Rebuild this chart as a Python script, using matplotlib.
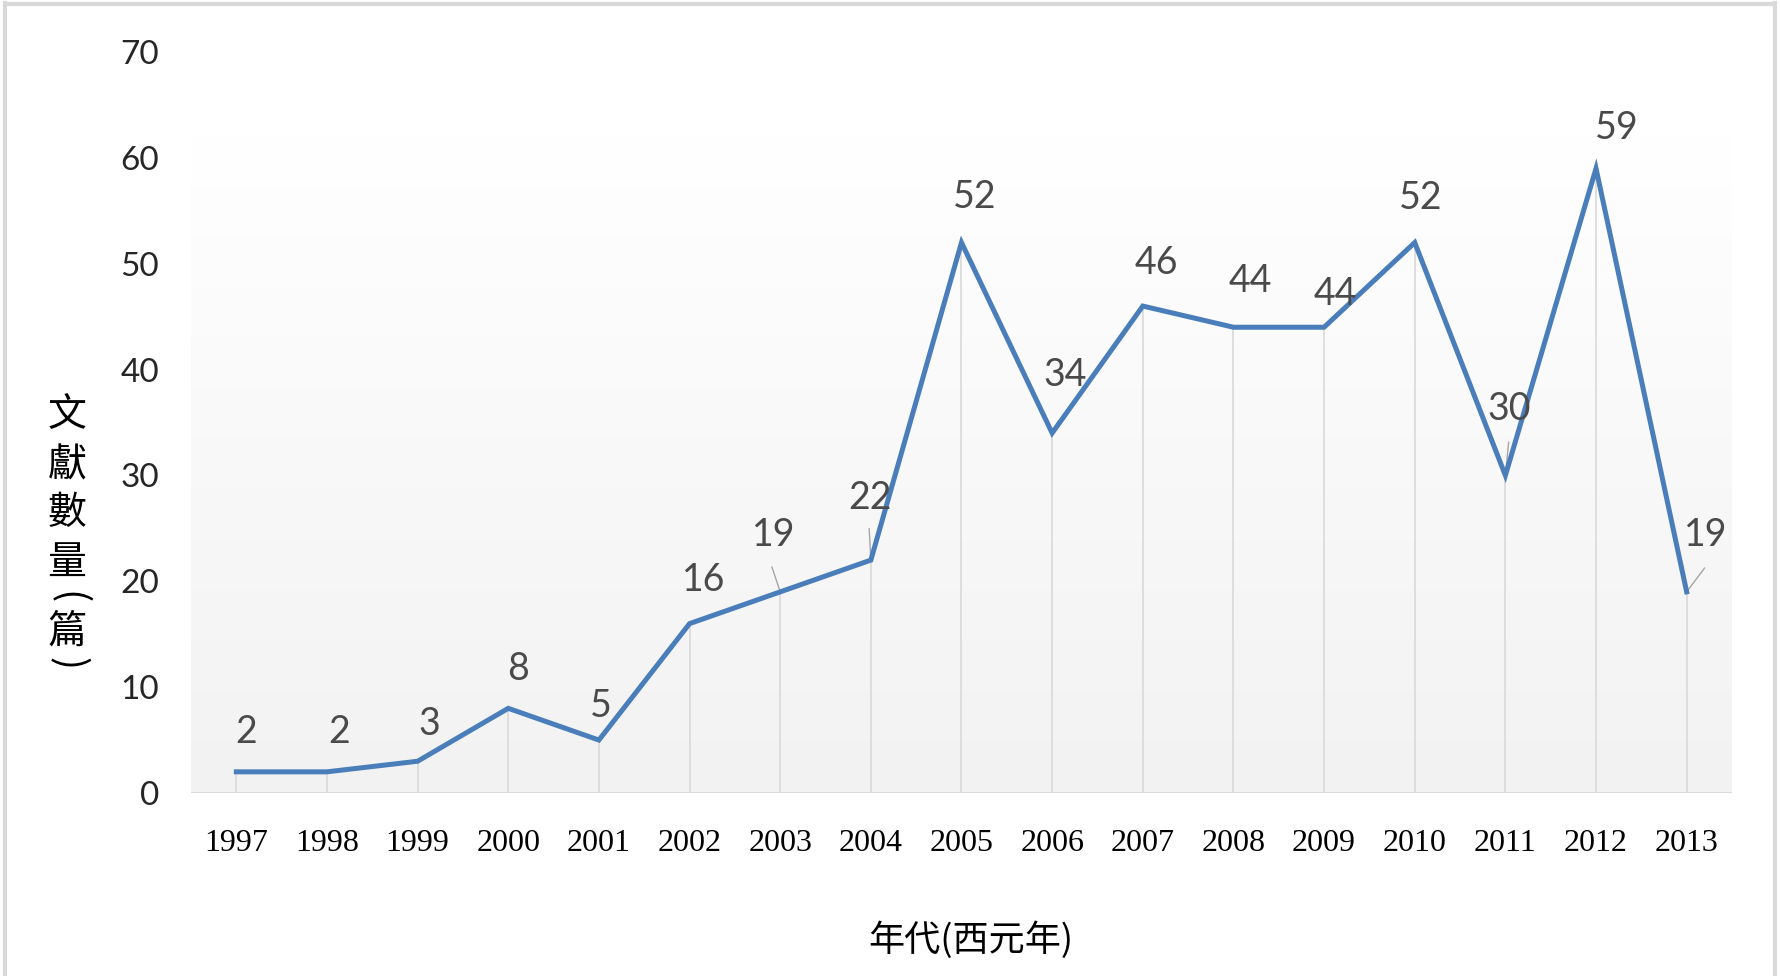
import numpy as np
import matplotlib
matplotlib.use("Agg")
import matplotlib.pyplot as plt
from matplotlib.colors import LinearSegmentedColormap
from matplotlib.lines import Line2D

plt.rcParams['font.family'] = ['Lato', 'Noto Sans CJK TC', 'DejaVu Sans']

# ---- data ----
years = ['1997', '1998', '1999', '2000', '2001', '2002', '2003', '2004', '2005',
         '2006', '2007', '2008', '2009', '2010', '2011', '2012', '2013']
counts = [2, 2, 3, 8, 5, 16, 19, 22, 52, 34, 46, 44, 44, 52, 30, 59, 19]
y_ticks = [0, 10, 20, 30, 40, 50, 60, 70]
x_label = '年代(西元年)'
y_label_chars = ['文', '獻', '數', '量', '(', '篇', ')']

# ---- styling (label offsets in pixels, relative to the point) ----
label_offsets = [(9.6, 39.6), (12.4, 39.6), (11.4, 36.8), (9.6, 39.6), (2, 34.4),
                 (13.7, 43.6), (-6.7, 56.6), (-1, 61.7), (13.3, 46), (13.3, 58.3),
                 (13.3, 42.7), (17.3, 46), (11, 33.3), (6, 45), (4.3, 66.7),
                 (21, 40), (19, 56.6)]
leader_offsets = {6: (-8.3, 25), 7: (-1.7, 31.7), 9: (6, 12), 14: (3.3, 33.4), 16: (18, 24)}

W, H = 1781, 976
fig = plt.figure(figsize=(W / 100, H / 100), dpi=100)
fig.patch.set_facecolor('white')

L, R, B, T = 191, 1732, 793, 52
ax = fig.add_axes([L / W, 1 - B / H, (R - L) / W, (B - T) / H])
ax.set_facecolor('none')

# gradient plot-area background
cmap = LinearSegmentedColormap.from_list('g', ['#ffffff', '#f2f2f2'])
grad = np.linspace(0, 1, 256).reshape(-1, 1)
ax.imshow(grad, cmap=cmap, aspect='auto', extent=(0, 1, 0, 0.888),
          transform=ax.transAxes, zorder=0, interpolation='bilinear')

x = np.arange(len(years))
ax.vlines(x, 0, counts, colors='#d9d9d9', lw=1.2, zorder=1)
ax.axhline(0, color='#d9d9d9', lw=2, zorder=1)
ax.plot(x, counts, color='#4a7ebb', lw=3.6, solid_joinstyle='miter', zorder=3)

for i, v in enumerate(counts):
    dx, dy = label_offsets[i]
    ax.annotate(str(v), (x[i], v), xytext=(dx, dy), textcoords='offset pixels',
                ha='center', va='center', fontsize=27, color='#4a4a4a',
                family='Lato', zorder=4)
for i, (lx, ly) in leader_offsets.items():
    ax.annotate('', (x[i], counts[i]), xytext=(lx, ly), textcoords='offset pixels',
                arrowprops=dict(arrowstyle='-', color='#a6a6a6', lw=1,
                                shrinkA=0, shrinkB=0), zorder=2)

ax.set_xlim(-0.5, len(years) - 0.5)
ax.set_ylim(0, 70)
ax.set_yticks(y_ticks)
ax.set_yticklabels([str(t) for t in y_ticks], family='Lato', fontsize=24, color='#262626')
ax.set_xticks(x)
ax.set_xticklabels(years, family='Liberation Serif', fontsize=23, color='#000000')
ax.tick_params(axis='y', length=0, pad=23)
ax.tick_params(axis='x', length=0, pad=26)
for s in ax.spines.values():
    s.set_visible(False)

# x axis title
fig.text(971 / W, 1 - 940 / H, x_label, ha='center', va='center', fontsize=26,
         family=['Noto Sans CJK TC', 'DejaVu Sans'], color='#000000')

# stacked vertical y-axis title
ys = [415, 465, 513, 563, 598, 632, 664]
for ch, yc in zip(y_label_chars, ys):
    if ch in '()':
        fig.text(67 / W, 1 - yc / H, ch, ha='center', va='center', fontsize=28,
                 rotation=-90, family=['Noto Sans CJK TC', 'DejaVu Sans'], color='#000000')
    else:
        fig.text(67 / W, 1 - yc / H, ch, ha='center', va='center', fontsize=28,
                 family=['Noto Sans CJK TC', 'DejaVu Sans'], color='#000000')

# outer chart border
bc = '#d9d9d9'
fig.add_artist(Line2D([5 / W, 5 / W], [0, 1 - 3 / H], transform=fig.transFigure, color=bc, lw=3))
fig.add_artist(Line2D([5 / W, 1775 / W], [1 - 4 / H, 1 - 4 / H], transform=fig.transFigure, color=bc, lw=3))
fig.add_artist(Line2D([1775 / W, 1775 / W], [0, 1 - 3 / H], transform=fig.transFigure, color=bc, lw=3))

fig.savefig('out.png', dpi=100, facecolor='white')
